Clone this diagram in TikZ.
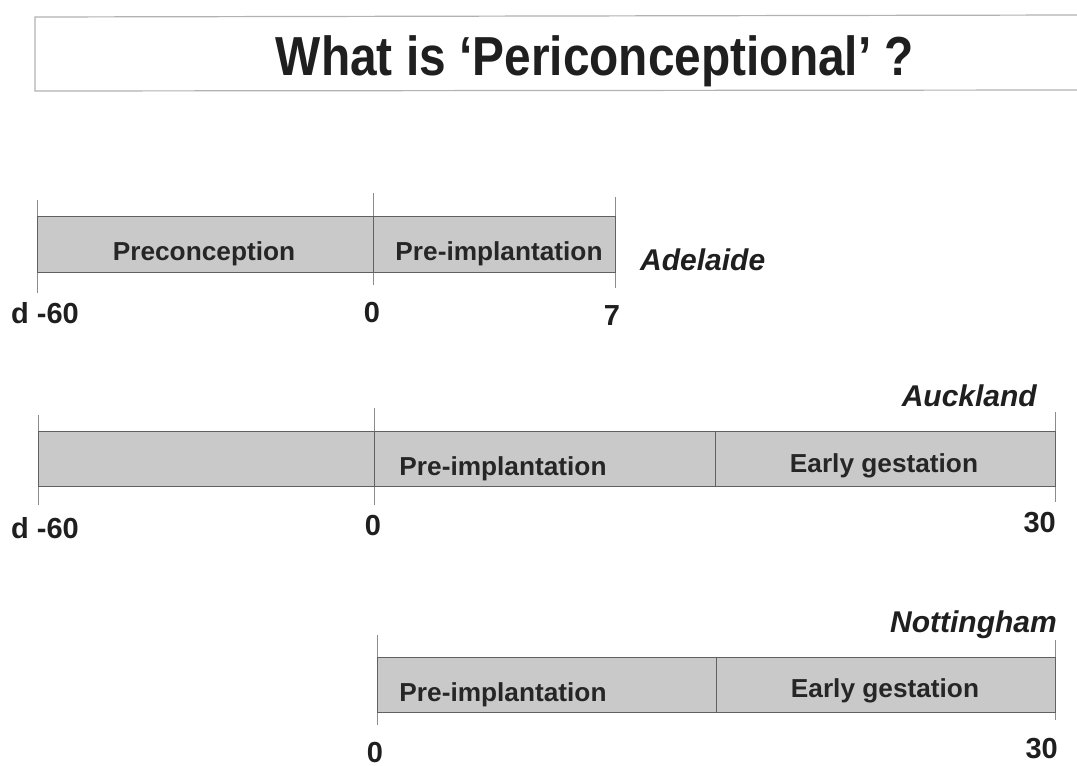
\documentclass[tikz,border=0pt]{standalone}
\usepackage{fontspec}
\setmainfont{Liberation Sans}
\begin{document}
\begin{tikzpicture}[x=1pt,y=-1pt,
  seg/.style={draw=black!62, line width=1.3pt, fill=black!21, inner sep=0pt, rectangle},
  tickline/.style={draw=black!45, line width=1pt},
  phase/.style={font=\bfseries\fontsize{25}{28}\selectfont, text=black!85, anchor=base, inner sep=0pt, xscale=1.05, yscale=1.04},
  city/.style={font=\bfseries\itshape\fontsize{30}{33}\selectfont, text=black!88, anchor=base, inner sep=0pt},
  daynum/.style={font=\bfseries\fontsize{29}{32}\selectfont, text=black!88, anchor=base, inner sep=0pt},
  titlebox/.style={draw=black!30, line width=1.2pt}
]
\useasboundingbox (0,0) rectangle (1077,766);
\fill[white] (0,0) rectangle (1077,766);

% title box
\draw[titlebox] (1077,15) -- (35,17) -- (35,91) -- (1077,90);
\node[font=\bfseries\fontsize{55}{60}\selectfont, anchor=base, inner sep=0pt, xscale=0.87, text=black!88] (title) at (595,75) {What is ‘Periconceptional’ ?};

% ---------- Row 1: Adelaide ----------
\draw[tickline] (37,200) -- (37,293);
\draw[tickline] (373,193) -- (373,285);
\draw[tickline] (615,197) -- (615,288);
\node[seg, minimum width=336pt, minimum height=56pt, anchor=north west] (a1) at (37,216) {};
\node[seg, minimum width=242pt, minimum height=56pt, anchor=north west] (a2) at (373,216) {};
\node[phase] (a1t) at (204,260) {Preconception};
\node[phase] (a2t) at (499,260) {Pre-implantation};
\node[city, anchor=base west] (adel) at (640,270) {Adelaide};
\node[daynum, anchor=base west] (a1n) at (11,323) {d -60};
\node[daynum] (a2n) at (372,322) {0};
\node[daynum] (a3n) at (612,325) {7};

% ---------- Row 2: Auckland ----------
\draw[tickline] (38,415) -- (38,505);
\draw[tickline] (374,408) -- (374,505);
\draw[tickline] (1055,412) -- (1055,502);
\node[seg, minimum width=336pt, minimum height=55pt, anchor=north west] (b1) at (38,431) {};
\node[seg, minimum width=341pt, minimum height=55pt, anchor=north west] (b2) at (374,431) {};
\node[seg, minimum width=340pt, minimum height=55pt, anchor=north west] (b3) at (715,431) {};
\node[phase] (b2t) at (503,475) {Pre-implantation};
\node[phase] (b3t) at (884,472) {Early gestation};
\node[city, anchor=base east] (auck) at (1037,406) {Auckland};
\node[daynum, anchor=base west] (b1n) at (11,538) {d -60};
\node[daynum] (b2n) at (373,535) {0};
\node[daynum, anchor=base east] (b3n) at (1056,532) {30};

% ---------- Row 3: Nottingham ----------
\draw[tickline] (377,635) -- (377,725);
\draw[tickline] (1055,640) -- (1055,720);
\node[seg, minimum width=339pt, minimum height=55pt, anchor=north west] (c1) at (377,657) {};
\node[seg, minimum width=339pt, minimum height=55pt, anchor=north west] (c2) at (716,657) {};
\node[phase] (c1t) at (503,701) {Pre-implantation};
\node[phase] (c2t) at (885,697) {Early gestation};
\node[city, anchor=base east] (nott) at (1057,632) {Nottingham};
\node[daynum] (c1n) at (375,762) {0};
\node[daynum, anchor=base east] (c2n) at (1058,758) {30};
\end{tikzpicture}
\end{document}
